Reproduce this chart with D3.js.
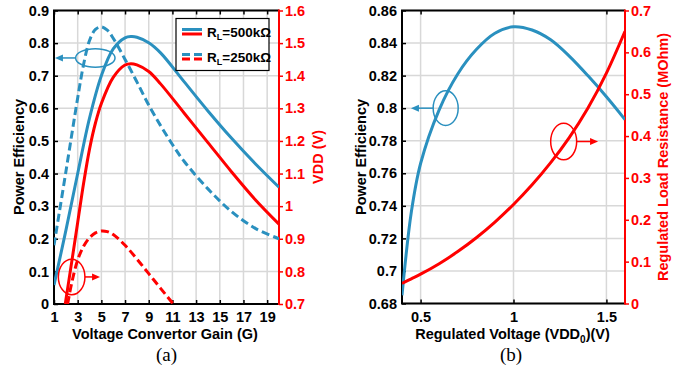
<!DOCTYPE html>
<html>
<head>
<meta charset="utf-8">
<script src="https://cdn.jsdelivr.net/npm/d3@7"></script>
<style>
  body { margin: 0; background: #fff; }
  svg text { font-family: "Liberation Sans", Arial, sans-serif; font-weight: bold; }
</style>
</head>
<body>
<div id="chart"></div>
<script>
// panel (a): efficiency and VDD vs converter gain
var gainEff500 = [1, 2, 3, 4, 5, 6, 7, 7.5, 8, 9, 10, 12, 14, 16, 18, 20]
var eff500 = [0.058, 0.225, 0.4, 0.57, 0.7, 0.782, 0.816, 0.82, 0.818, 0.801, 0.77, 0.681, 0.592, 0.508, 0.43, 0.358]
var gainEff250 = [1, 2, 3, 3.5, 4, 4.5, 5, 5.5, 6, 7, 8, 9, 10, 11, 12, 14, 16, 18, 20]
var eff250 = [0.18, 0.405, 0.632, 0.735, 0.808, 0.842, 0.85, 0.84, 0.815, 0.75, 0.681, 0.61, 0.547, 0.489, 0.437, 0.353, 0.283, 0.232, 0.2]
var gainVdd500 = [1.95, 2.5, 3, 3.5, 4, 4.5, 5, 6, 7, 7.5, 8, 9, 10, 12, 14, 16, 18, 20]
var vdd500 = [0.7, 0.83, 0.95, 1.07, 1.175, 1.255, 1.315, 1.395, 1.433, 1.437, 1.433, 1.413, 1.375, 1.285, 1.195, 1.105, 1.02, 0.945]
var gainVdd250 = [2.15, 2.5, 3, 3.5, 4, 4.5, 5, 5.5, 6, 7, 8, 9, 10, 11.07]
var vdd250 = [0.7, 0.765, 0.835, 0.877, 0.903, 0.918, 0.924, 0.922, 0.913, 0.88, 0.838, 0.793, 0.748, 0.7]

// panel (b): efficiency and load resistance vs regulated voltage
var vddB = [0.4, 0.45, 0.5, 0.6, 0.7, 0.8, 0.9, 1.0, 1.1, 1.2, 1.3, 1.4, 1.5, 1.6]
var effB = [0.685, 0.736, 0.766, 0.799, 0.821, 0.836, 0.846, 0.85, 0.848, 0.842, 0.832, 0.82, 0.807, 0.793]
var resB = [0.048, 0.059, 0.07, 0.095, 0.124, 0.157, 0.1945, 0.2365, 0.2835, 0.3365, 0.3965, 0.4665, 0.5505, 0.6505]

// ticks
var gainTicks = [1, 3, 5, 7, 9, 11, 13, 15, 17, 19]
var effTicksA = [0, 0.1, 0.2, 0.3, 0.4, 0.5, 0.6, 0.7, 0.8, 0.9]
var effLabelsA = ["0", "0.1", "0.2", "0.3", "0.4", "0.5", "0.6", "0.7", "0.8", "0.9"]
var vddTicksA = [0.7, 0.8, 0.9, 1.0, 1.1, 1.2, 1.3, 1.4, 1.5, 1.6]
var vddLabelsA = ["0.7", "0.8", "0.9", "1", "1.1", "1.2", "1.3", "1.4", "1.5", "1.6"]
var vTicksB = [0.5, 1, 1.5]
var vLabelsB = ["0.5", "1", "1.5"]
var effTicksB = [0.68, 0.70, 0.72, 0.74, 0.76, 0.78, 0.80, 0.82, 0.84, 0.86]
var effLabelsB = ["0.68", "0.7", "0.72", "0.74", "0.76", "0.78", "0.8", "0.82", "0.84", "0.86"]
var resTicksB = [0, 0.1, 0.2, 0.3, 0.4, 0.5, 0.6, 0.7]
var resLabelsB = ["0", "0.1", "0.2", "0.3", "0.4", "0.5", "0.6", "0.7"]

var blue = "#2a90bf", red = "#ff0000", grid = "#d8d8d8"
var fs = "14.5px"

var svg = d3.select("#chart").append("svg")
    .attr("width", 691)
    .attr("height", 371)

// scales
var xA = d3.scaleLinear().domain([1, 20]).range([54, 279])
var yA = d3.scaleLinear().domain([0, 0.9]).range([304, 10.5])
var vA = d3.scaleLinear().domain([0.7, 1.6]).range([304, 10.5])
var xB = d3.scaleLinear().domain([0.4, 1.6]).range([402, 625])
var yB = d3.scaleLinear().domain([0.68, 0.86]).range([303.5, 10.5])
var rB = d3.scaleLinear().domain([0, 0.7]).range([303.5, 10.5])

function zip(xs, ys) { return xs.map(function(x, i) { return [x, ys[i]] }) }

function panel(id, x, y, y2, xt, xl, yt, yl, y2t, y2l) {
  var g = svg.append("g")
  var x0 = x.range()[0], x1 = x.range()[1], yb = y.range()[0], ytop = y.range()[1]

  svg.append("clipPath").attr("id", id)
    .append("rect").attr("x", x0).attr("y", ytop).attr("width", x1 - x0).attr("height", yb - ytop)

  // grid
  g.selectAll(".gx").data(xt).enter().append("line")
    .attr("x1", d => x(d)).attr("x2", d => x(d)).attr("y1", ytop).attr("y2", yb)
    .attr("stroke", grid).attr("stroke-width", 1.5)
  g.selectAll(".gy").data(yt).enter().append("line")
    .attr("y1", d => y(d)).attr("y2", d => y(d)).attr("x1", x0).attr("x2", x1)
    .attr("stroke", grid).attr("stroke-width", 1.5)

  // axes
  var ax = g.append("g").attr("transform", "translate(0," + yb + ")")
    .call(d3.axisBottom(x).tickValues(xt).tickFormat((d, i) => xl[i]).tickSizeInner(-4).tickSizeOuter(0).tickPadding(8))
  var axTop = g.append("g").attr("transform", "translate(0," + ytop + ")")
    .call(d3.axisTop(x).tickValues(xt).tickFormat("").tickSizeInner(-4).tickSizeOuter(0))
  var ay = g.append("g").attr("transform", "translate(" + x0 + ",0)")
    .call(d3.axisLeft(y).tickValues(yt).tickFormat((d, i) => yl[i]).tickSizeInner(-4).tickSizeOuter(0).tickPadding(5))
  var ay2 = g.append("g").attr("transform", "translate(" + x1 + ",0)")
    .call(d3.axisRight(y2).tickValues(y2t).tickFormat((d, i) => y2l[i]).tickSizeInner(4).tickSizeOuter(0).tickPadding(2))

  ;[ax, axTop, ay, ay2].forEach(function(a) {
    a.select(".domain").remove()
    a.selectAll("text").style("font-size", fs).attr("fill", "#000")
    a.selectAll("line").attr("stroke", "#000").attr("stroke-width", 1.5)
  })
  ay2.selectAll("text").attr("fill", red)
  ay2.selectAll("line").attr("stroke", red)

  // frame
  g.append("path").attr("d", "M" + x1 + "," + ytop + "H" + x0 + "V" + yb + "H" + x1)
    .attr("fill", "none").attr("stroke", "#000").attr("stroke-width", 2)
  g.append("line").attr("x1", x1).attr("x2", x1).attr("y1", ytop - 1).attr("y2", yb + 1)
    .attr("stroke", red).attr("stroke-width", 2)

  return svg.append("g").attr("clip-path", "url(#" + id + ")")
}

function curve(g, xs, ys, x, y, color, dash) {
  g.append("path")
    .datum(zip(xs, ys))
    .attr("d", d3.line().x(d => x(d[0])).y(d => y(d[1])).curve(d3.curveCatmullRom.alpha(0.5)))
    .attr("fill", "none")
    .attr("stroke", color)
    .attr("stroke-width", 3)
    .attr("stroke-dasharray", dash || null)
}

function marker(cx, cy, rx, ry, tipX, color) {
  svg.append("ellipse").attr("cx", cx).attr("cy", cy).attr("rx", rx).attr("ry", ry)
    .attr("fill", "none").attr("stroke", color).attr("stroke-width", 1.5)
  var start = tipX < cx ? cx - rx : cx + rx
  var dir = tipX < cx ? 1 : -1
  svg.append("line").attr("x1", start).attr("x2", tipX + dir * 6).attr("y1", cy).attr("y2", cy)
    .attr("stroke", color).attr("stroke-width", 1.5)
  svg.append("path")
    .attr("d", "M" + tipX + "," + cy + "L" + (tipX + dir * 8) + "," + (cy - 3.5) + "L" + (tipX + dir * 8) + "," + (cy + 3.5) + "Z")
    .attr("fill", color)
}

// ---- panel (a)
var pa = panel("clipA", xA, yA, vA, gainTicks, gainTicks.map(String), effTicksA, effLabelsA, vddTicksA, vddLabelsA)
curve(pa, gainEff500, eff500, xA, yA, blue)
curve(pa, gainEff250, eff250, xA, yA, blue, "8,4")
curve(pa, gainVdd500, vdd500, xA, vA, red)
curve(pa, gainVdd250, vdd250, xA, vA, red, "8,4")

marker(xA(4.49), yA(0.7545), 19.7, 9.2, xA(1.08), blue)
marker(xA(2.49), vA(0.783), 13.3, 17.8, xA(4.89), red)

// legend
var lg = svg.append("g")
lg.append("rect").attr("x", 176).attr("y", 18.5).attr("width", 93).attr("height", 52)
  .attr("fill", "#fff").attr("stroke", "#000").attr("stroke-width", 1.2)
var legendRows = [{label: "500kΩ", y: 29.5, dash: null, ty: 36.5}, {label: "250kΩ", y: 54.5, dash: "8,4", ty: 61.5}]
legendRows.forEach(function(r) {
  lg.append("line").attr("x1", 182).attr("x2", 202).attr("y1", r.y).attr("y2", r.y)
    .attr("stroke", blue).attr("stroke-width", 3).attr("stroke-dasharray", r.dash)
  lg.append("line").attr("x1", 182).attr("x2", 202).attr("y1", r.y + 4.5).attr("y2", r.y + 4.5)
    .attr("stroke", red).attr("stroke-width", 3).attr("stroke-dasharray", r.dash)
  var t = lg.append("text").attr("x", 207).attr("y", r.ty).style("font-size", "13.5px")
  t.append("tspan").text("R")
  t.append("tspan").text("L").style("font-size", "9px").attr("dy", 3)
  t.append("tspan").text("=" + r.label).attr("dy", -3)
})

// titles (a)
svg.append("text").attr("x", 165).attr("y", 339).attr("text-anchor", "middle").style("font-size", fs)
  .text("Voltage Convertor Gain (G)")
svg.append("text").attr("transform", "translate(24,157) rotate(-90)").attr("text-anchor", "middle").style("font-size", fs)
  .text("Power Efficiency")
svg.append("text").attr("transform", "translate(323,157) rotate(-90)").attr("text-anchor", "middle").style("font-size", fs)
  .attr("fill", red).text("VDD (V)")
svg.append("text").attr("x", 166.5).attr("y", 361).attr("text-anchor", "middle")
  .style("font-family", "'Liberation Serif', 'Times New Roman', serif").style("font-weight", "normal").style("font-size", "19px")
  .text("(a)")

// ---- panel (b)
var pb = panel("clipB", xB, yB, rB, vTicksB, vLabelsB, effTicksB, effLabelsB, resTicksB, resLabelsB)
curve(pb, vddB, effB, xB, yB, blue)
curve(pb, vddB, resB, xB, rB, red)

marker(xB(0.635), yB(0.80), 12.5, 17.3, xB(0.448), blue)
marker(xB(1.27), rB(0.387), 13, 18.3, xB(1.455), red)

var tb = svg.append("text").attr("x", 512.5).attr("y", 339).attr("text-anchor", "middle").style("font-size", fs)
tb.append("tspan").text("Regulated Voltage (VDD")
tb.append("tspan").text("0").style("font-size", "10px").attr("dy", 4)
tb.append("tspan").text(")(V)").attr("dy", -4)
svg.append("text").attr("transform", "translate(366,157) rotate(-90)").attr("text-anchor", "middle").style("font-size", fs)
  .text("Power Efficiency")
svg.append("text").attr("transform", "translate(668,157) rotate(-90)").attr("text-anchor", "middle").style("font-size", fs)
  .attr("fill", red).text("Regulated Load Resistance (MOhm)")
svg.append("text").attr("x", 511).attr("y", 361).attr("text-anchor", "middle")
  .style("font-family", "'Liberation Serif', 'Times New Roman', serif").style("font-weight", "normal").style("font-size", "19px")
  .text("(b)")
</script>
</body>
</html>
